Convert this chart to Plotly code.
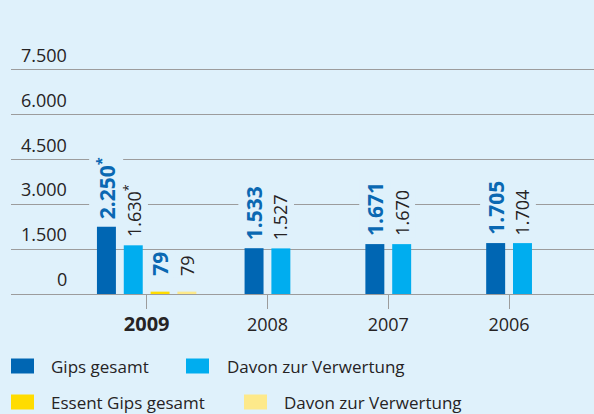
import plotly.graph_objects as go

# ---- data -------------------------------------------------------------
years = ["2009", "2008", "2007", "2006"]
gips_gesamt = [2250, 1533, 1671, 1705]
gips_verwertung = [1630, 1527, 1670, 1704]
essent_gesamt = [79, None, None, None]
essent_verwertung = [79, None, None, None]
footnote = [True, False, False, False]  # values marked with *

y_ticks = [0, 1500, 3000, 4500, 6000, 7500]

# ---- style ------------------------------------------------------------
BG = "#dff1fb"
GRID = "#9c9c9c"
TEXT = "#262324"
LABEL_BLUE = "#0a68b2"
FONT = "Open Sans"

series = [
    dict(name="Gips gesamt", values=gips_gesamt, color="#0066b3", strong=True, lift=6),
    dict(name="Davon zur Verwertung", values=gips_verwertung, color="#00adef", strong=False, lift=6),
    dict(name="Essent Gips gesamt", values=essent_gesamt, color="#ffdc00", strong=True, lift=14),
    dict(name="Davon zur Verwertung", values=essent_verwertung, color="#fde98a", strong=False, lift=14),
]

W, H = 594, 414
M_L, M_R, M_T, M_B = 11, 0, 67, 120
Y_MAX = 7600
X_RANGE = [-1.123, 3.703]

BAR_W = 0.157   # bar width in category units
PITCH = 0.222   # distance between neighbouring bars


def px_x(px):
    return (px - M_L) / (W - M_L - M_R)


def px_y(py):
    return (H - M_B - py) / (H - M_T - M_B)


def de(v):
    return f"{v:,}".replace(",", ".")


# bars of each year are centred on the year's tick
offsets = [[0.0] * len(years) for _ in series]
for j in range(len(years)):
    present = [i for i, s in enumerate(series) if s["values"][j] is not None]
    n = len(present)
    for slot, i in enumerate(present):
        offsets[i][j] = (slot - n / 2) * PITCH + (PITCH - BAR_W) / 2

fig = go.Figure()
annotations = []

for i, s in enumerate(series):
    fig.add_trace(go.Bar(
        x=years, y=s["values"], name=s["name"],
        offset=offsets[i], width=BAR_W,
        marker=dict(color=s["color"], line=dict(width=0)),
        showlegend=False, hoverinfo="skip",
    ))
    for j, v in enumerate(s["values"]):
        if v is None:
            continue
        txt = de(v) + ("<sup>*</sup>" if footnote[j] and i < 2 else "")
        if s["strong"]:
            txt = "<b>" + txt + "</b>"
            font = dict(family=FONT, size=21, color=LABEL_BLUE)
        else:
            font = dict(family=FONT, size=18, color=TEXT)
        annotations.append(dict(
            x=j + offsets[i][j] + BAR_W / 2, y=v, xref="x", yref="y",
            text=txt, textangle=-90, showarrow=False,
            xanchor="center", yanchor="bottom", yshift=s["lift"],
            font=font, bgcolor=BG, borderpad=1,
        ))

# value-axis labels, right aligned above each gridline
for t in y_ticks:
    annotations.append(dict(
        x=px_x(69), y=t, xref="paper", yref="y",
        text=de(t), showarrow=False, xanchor="right", yanchor="middle",
        yshift=15, font=dict(family=FONT, size=18, color=TEXT),
    ))

# legend drawn as swatches plus text
legend_rows = [
    [(0, 11, 49), (1, 186, 225)],
    [(2, 11, 49), (3, 244, 282)],
]
legend_y = [366, 402]
shapes = []
for row, cy in zip(legend_rows, legend_y):
    for i, sx, tx in row:
        shapes.append(dict(
            type="rect", xref="paper", yref="paper",
            x0=px_x(sx), x1=px_x(sx + 23), y0=px_y(cy + 7.5), y1=px_y(cy - 7.5),
            fillcolor=series[i]["color"], line=dict(width=0),
        ))
        annotations.append(dict(
            x=px_x(tx), y=px_y(cy), xref="paper", yref="paper",
            text=series[i]["name"], showarrow=False,
            xanchor="left", yanchor="middle",
            font=dict(family=FONT, size=17, color=TEXT),
        ))

tick_text = ['<span style="font-size:20px"><b>%s</b></span>' % y if k == 0 else y
             for k, y in enumerate(years)]

fig.update_layout(
    width=W, height=H,
    margin=dict(l=M_L, r=M_R, t=M_T, b=M_B),
    paper_bgcolor=BG, plot_bgcolor=BG,
    barmode="overlay",
    font=dict(family=FONT, color=TEXT),
    xaxis=dict(
        type="category", range=X_RANGE,
        tickmode="array", tickvals=years, ticktext=tick_text,
        showgrid=False, showline=True, linecolor=GRID, linewidth=1,
        ticks="outside", ticklen=14, tickcolor=GRID, tickwidth=1,
        tickfont=dict(family=FONT, size=18, color=TEXT),
        fixedrange=True,
    ),
    yaxis=dict(
        range=[0, Y_MAX], tickmode="array", tickvals=y_ticks,
        showticklabels=False, showgrid=True, gridcolor=GRID, gridwidth=1,
        zeroline=False, showline=False, fixedrange=True,
    ),
    annotations=annotations,
    shapes=shapes,
)

fig.write_html("out.html")
